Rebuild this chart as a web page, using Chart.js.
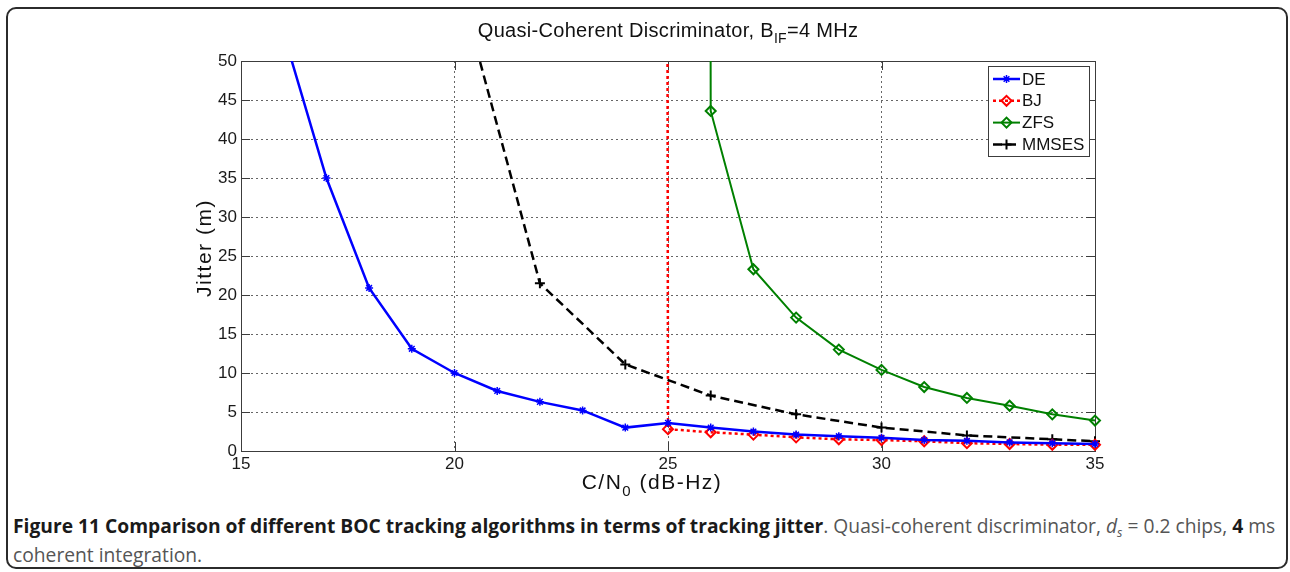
<!DOCTYPE html>
<html>
<head>
<meta charset="utf-8">
<script src="https://cdn.jsdelivr.net/npm/chart.js@4/dist/chart.umd.min.js"></script>
<style>
  html, body { margin: 0; padding: 0; background: #fff; }
  body { width: 1290px; height: 572px; position: relative; overflow: hidden; }
  .frame { position: absolute; left: 6px; top: 7px; width: 1282px; height: 562px; box-sizing: border-box;
           border: 2px solid #2b2b2b; border-radius: 10px; }
  #plot { position: absolute; left: 0; top: 0; }
  .cap { position: absolute; left: 13px; font-family: 'Open Sans', sans-serif; font-size: 20px; line-height: 24px;
         color: #555; white-space: nowrap; transform-origin: 0 0; }
  .cap b { color: #1a1a1a; }
  .cap sub { font-size: 13px; vertical-align: -4px; line-height: 0; }
</style>
</head>
<body>
<div class="frame"></div>
<canvas id="plot" width="1290" height="500"></canvas>
<div class="cap" id="cap1" style="top:514px"><b>Figure 11 Comparison of different BOC tracking algorithms in terms of tracking jitter</b>. Quasi-coherent discriminator, <i>d<sub>s</sub></i> = 0.2 chips, <b>4</b> ms</div>
<div class="cap" id="cap2" style="top:543px">coherent integration.</div>
<script>
// C/N0 (dB-Hz) and jitter (m) per algorithm
const cn0DE = [16, 17, 18, 19, 20, 21, 22, 23, 24, 25, 26, 27, 28, 29, 30, 31, 32, 33, 34, 35];
const jitterDE = [53.5, 35, 20.9, 13.1, 10, 7.7, 6.3, 5.2, 3.0, 3.6, 3.0, 2.5, 2.1, 1.9, 1.7, 1.4, 1.3, 1.1, 1.0, 0.9];

// BJ and ZFS lose lock below 25 / 26 dB-Hz (jitter blows up)
const cn0BJ = [24, 25, 26, 27, 28, 29, 30, 31, 32, 33, 34, 35];
const jitterBJ = [10000, 2.8, 2.4, 2.1, 1.75, 1.5, 1.4, 1.25, 1.0, 0.9, 0.8, 0.8];

const cn0ZFS = [25, 26, 27, 28, 29, 30, 31, 32, 33, 34, 35];
const jitterZFS = [10000, 43.6, 23.3, 17.1, 13.0, 10.4, 8.2, 6.8, 5.8, 4.7, 3.9];

const cn0MMSES = [20, 22, 24, 26, 28, 30, 32, 34, 35];
const jitterMMSES = [62, 21.5, 11.1, 7.1, 4.7, 3.0, 2.0, 1.5, 1.25];

const xTicks = [15, 20, 25, 30, 35];
const yTicks = [0, 5, 10, 15, 20, 25, 30, 35, 40, 45, 50];

const FONT = "'Liberation Sans', Arial, sans-serif";
const AXIS_COLOR = '#3c3c3c';

const pts = (xs, ys) => xs.map((x, i) => ({ x: x, y: ys[i] }));

// centred text where parts flagged sub are drawn smaller and lowered
function drawRich(ctx, parts, x, y, size, spacing) {
  const subSize = Math.round(size * 0.72);
  ctx.letterSpacing = (spacing || 0) + 'px';
  let total = 0;
  parts.forEach(p => {
    ctx.font = (p.sub ? subSize : size) + 'px ' + FONT;
    p.w = ctx.measureText(p.t).width;
    total += p.w;
  });
  let cx = x - total / 2;
  ctx.textBaseline = 'alphabetic';
  ctx.textAlign = 'left';
  parts.forEach(p => {
    ctx.font = (p.sub ? subSize : size) + 'px ' + FONT;
    ctx.fillText(p.t, cx, p.sub ? y + size * 0.32 : y);
    cx += p.w;
  });
  ctx.letterSpacing = '0px';
}

const matlabAxes = {
  id: 'matlabAxes',
  beforeDatasetsDraw(chart) {
    const { ctx, chartArea: a, scales } = chart;
    const tick = 9;
    ctx.save();
    ctx.strokeStyle = AXIS_COLOR;
    ctx.lineWidth = 1;
    ctx.beginPath();
    xTicks.forEach(v => {
      const px = Math.round(scales.x.getPixelForValue(v)) + 0.5;
      ctx.moveTo(px, a.bottom); ctx.lineTo(px, a.bottom - tick);
      ctx.moveTo(px, a.top); ctx.lineTo(px, a.top + tick);
    });
    yTicks.forEach(v => {
      const py = Math.round(scales.y.getPixelForValue(v)) + 0.5;
      ctx.moveTo(a.left, py); ctx.lineTo(a.left + tick, py);
      ctx.moveTo(a.right, py); ctx.lineTo(a.right - tick, py);
    });
    ctx.stroke();
    ctx.strokeRect(Math.round(a.left) + 0.5, Math.round(a.top) + 0.5,
                   Math.round(a.right - a.left), Math.round(a.bottom - a.top));
    ctx.restore();
  },
  afterDraw(chart) {
    const { ctx, chartArea: a } = chart;
    const mid = (a.left + a.right) / 2;
    ctx.save();
    ctx.fillStyle = '#111';
    drawRich(ctx, [{ t: 'Quasi-Coherent Discriminator, B' }, { t: 'IF', sub: true }, { t: '=4 MHz' }], mid, 37, 20, 0.3);
    drawRich(ctx, [{ t: 'C/N' }, { t: '0', sub: true }, { t: ' (dB-Hz)' }], mid - 16, 489, 21, 1.5);
    ctx.translate(211, (a.top + a.bottom) / 2 - 8);
    ctx.rotate(-Math.PI / 2);
    drawRich(ctx, [{ t: 'Jitter (m)' }], 0, 0, 21, 1.5);
    ctx.restore();

    // legend box in the upper right of the axes
    const box = { left: 988, top: 66, width: 101, height: 90 };
    ctx.save();
    ctx.fillStyle = '#fff';
    ctx.fillRect(box.left, box.top, box.width, box.height);
    ctx.strokeStyle = AXIS_COLOR;
    ctx.lineWidth = 1;
    ctx.strokeRect(box.left + 0.5, box.top + 0.5, box.width, box.height);
    chart.data.datasets.forEach((ds, i) => {
      const y = box.top + 13 + i * 21.8;
      const x0 = box.left + 5, x1 = box.left + 32;
      ctx.save();
      ctx.strokeStyle = ds.borderColor;
      ctx.lineWidth = ds.borderWidth;
      ctx.setLineDash(ds.borderDash || []);
      ctx.beginPath();
      ctx.moveTo(x0, y); ctx.lineTo(x1, y);
      ctx.stroke();
      ctx.setLineDash([]);
      ctx.fillStyle = 'rgba(0,0,0,0)';
      ctx.lineWidth = ds.pointBorderWidth;
      Chart.helpers.drawPoint(ctx, { pointStyle: ds.pointStyle, radius: ds.pointRadius, borderWidth: ds.pointBorderWidth, rotation: 0 }, (x0 + x1) / 2, y);
      ctx.restore();
      ctx.fillStyle = '#111';
      ctx.font = '17px ' + FONT;
      ctx.textBaseline = 'middle';
      ctx.textAlign = 'left';
      ctx.fillText(ds.label, x1 + 2, y + 1);
    });
    ctx.restore();
  }
};

new Chart(document.getElementById('plot'), {
  type: 'line',
  data: {
    datasets: [{
      label: 'DE',
      data: pts(cn0DE, jitterDE),
      borderColor: '#0000ff',
      borderWidth: 2.5,
      pointStyle: 'star',
      pointRadius: 4,
      pointBorderWidth: 1.5,
      pointBorderColor: '#0000ff',
      pointBackgroundColor: 'rgba(0,0,0,0)'
    }, {
      label: 'BJ',
      data: pts(cn0BJ, jitterBJ),
      borderColor: '#ff0000',
      borderWidth: 2.5,
      borderDash: [3, 3],
      pointStyle: 'rectRot',
      pointRadius: 5,
      pointBorderWidth: 2,
      pointBorderColor: '#ff0000',
      pointBackgroundColor: 'rgba(0,0,0,0)'
    }, {
      label: 'ZFS',
      data: pts(cn0ZFS, jitterZFS),
      borderColor: '#008000',
      borderWidth: 2,
      pointStyle: 'rectRot',
      pointRadius: 5,
      pointBorderWidth: 2,
      pointBorderColor: '#008000',
      pointBackgroundColor: 'rgba(0,0,0,0)'
    }, {
      label: 'MMSES',
      data: pts(cn0MMSES, jitterMMSES),
      borderColor: '#000000',
      borderWidth: 2.5,
      borderDash: [9, 5],
      pointStyle: 'cross',
      pointRadius: 5,
      pointBorderWidth: 2,
      pointBorderColor: '#000000',
      pointBackgroundColor: 'rgba(0,0,0,0)'
    }]
  },
  options: {
    responsive: false,
    animation: false,
    devicePixelRatio: 1,
    layout: { padding: { top: 61, right: 195, left: 0, bottom: 0 } },
    datasets: { line: { tension: 0, clip: { left: 6, top: 0, right: 8, bottom: 8 } } },
    plugins: { legend: { display: false }, tooltip: { enabled: false }, title: { display: false } },
    scales: {
      x: {
        type: 'linear',
        min: 15,
        max: 35,
        afterBuildTicks: s => { s.ticks = xTicks.map(v => ({ value: v })); },
        afterFit: s => { s.height = 49; },
        grid: { color: '#666', lineWidth: 1, drawTicks: false },
        border: { display: false, dash: [2, 3] },
        ticks: { color: '#1a1a1a', font: { family: FONT, size: 17 }, padding: 3, maxRotation: 0, autoSkip: false }
      },
      y: {
        min: 0,
        max: 50,
        afterBuildTicks: s => { s.ticks = yTicks.map(v => ({ value: v })); },
        afterFit: s => { s.width = 241; },
        grid: { color: '#666', lineWidth: 1, drawTicks: false },
        border: { display: false, dash: [2, 3] },
        ticks: { color: '#1a1a1a', font: { family: FONT, size: 17 }, padding: 4, autoSkip: false }
      }
    }
  },
  plugins: [matlabAxes]
});

// squeeze both caption lines so the first one spans the frame
function fitCaption() {
  const c1 = document.getElementById('cap1');
  const c2 = document.getElementById('cap2');
  const k = 1262 / c1.scrollWidth;
  c1.style.transform = 'scaleX(' + k + ')';
  c2.style.transform = 'scaleX(' + k + ')';
}
fitCaption();
</script>
</body>
</html>
